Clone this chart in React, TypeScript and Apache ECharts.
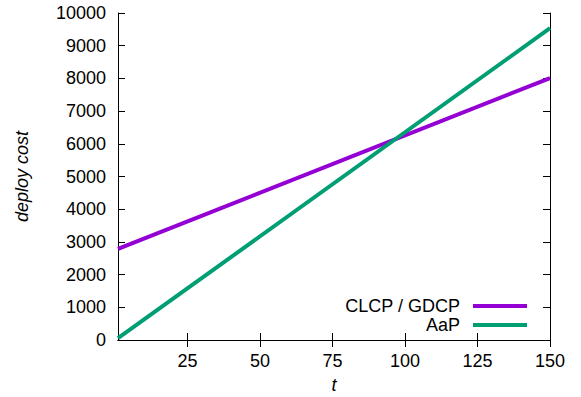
import React, { useEffect, useRef } from "react";
import * as echarts from "echarts";

const seriesNames = ["CLCP / GDCP", "AaP"];
const clcpData: [number, number][] = [
  [1, 2785],
  [150, 8010],
];
const aapData: [number, number][] = [
  [1, 55],
  [150, 9535],
];
const xTicks = [25, 50, 75, 100, 125, 150];
const colors = ["#9400D3", "#009E73"];

const FONT = "Liberation Sans, Arial, Helvetica, sans-serif";

export default function App() {
  const ref = useRef<HTMLDivElement>(null);
  useEffect(() => {
    if (!ref.current) return;
    const chart = echarts.init(ref.current, undefined, { renderer: "svg" });
    const axisLine = { show: true, lineStyle: { color: "#000", width: 1 } };
    const axisTick = { show: true, inside: true, length: 7, lineStyle: { color: "#000", width: 1 } };
    chart.setOption({
      animation: false,
      backgroundColor: "#fff",
      grid: { left: 118, right: 31, top: 13, bottom: 57, containLabel: false, outerBoundsMode: "none" },
      legend: {
        orient: "vertical",
        align: "right",
        right: 49,
        top: 292,
        itemWidth: 54,
        itemHeight: 4,
        itemGap: 1,
        icon: "rect",
        data: seriesNames,
        textStyle: { fontSize: 18, lineHeight: 18, fontFamily: FONT, color: "#000", padding: [0, 8, 0, 0] },
      },
      xAxis: [
        {
          type: "value",
          min: 1,
          max: 150,
          name: "t",
          nameLocation: "middle",
          nameGap: 36,
          nameTextStyle: { fontSize: 18, fontStyle: "italic", fontFamily: FONT, color: "#000" },
          axisLine,
          axisTick: { ...axisTick, customValues: xTicks },
          axisLabel: { customValues: xTicks, fontSize: 18, fontFamily: FONT, color: "#000", margin: 12 },
          splitLine: { show: false },
        },
        {
          type: "value",
          position: "top",
          min: 1,
          max: 150,
          axisLine,
          axisTick: { ...axisTick, customValues: xTicks },
          axisLabel: { show: false },
          splitLine: { show: false },
        },
      ],
      yAxis: [
        {
          type: "value",
          min: 0,
          max: 10000,
          interval: 1000,
          name: "deploy cost",
          nameLocation: "middle",
          nameGap: 87,
          nameTextStyle: { fontSize: 18, fontStyle: "italic", fontFamily: FONT, color: "#000" },
          axisLine,
          axisTick,
          axisLabel: {
            fontSize: 18,
            fontFamily: FONT,
            color: "#000",
            margin: 12,
            formatter: (v: number) => String(v),
          },
          splitLine: { show: false },
        },
        {
          type: "value",
          position: "right",
          min: 0,
          max: 10000,
          interval: 1000,
          axisLine,
          axisTick,
          axisLabel: { show: false },
          splitLine: { show: false },
        },
      ],
      series: [
        {
          name: seriesNames[0],
          type: "line",
          data: clcpData,
          symbol: "none",
          color: colors[0],
          lineStyle: { width: 4, color: colors[0] },
        },
        {
          name: seriesNames[1],
          type: "line",
          data: aapData,
          symbol: "none",
          color: colors[1],
          lineStyle: { width: 4, color: colors[1] },
        },
      ],
    });
    return () => chart.dispose();
  }, []);
  return <div ref={ref} style={{ width: 581, height: 397, position: "absolute", left: 0, top: 0 }} />;
}
